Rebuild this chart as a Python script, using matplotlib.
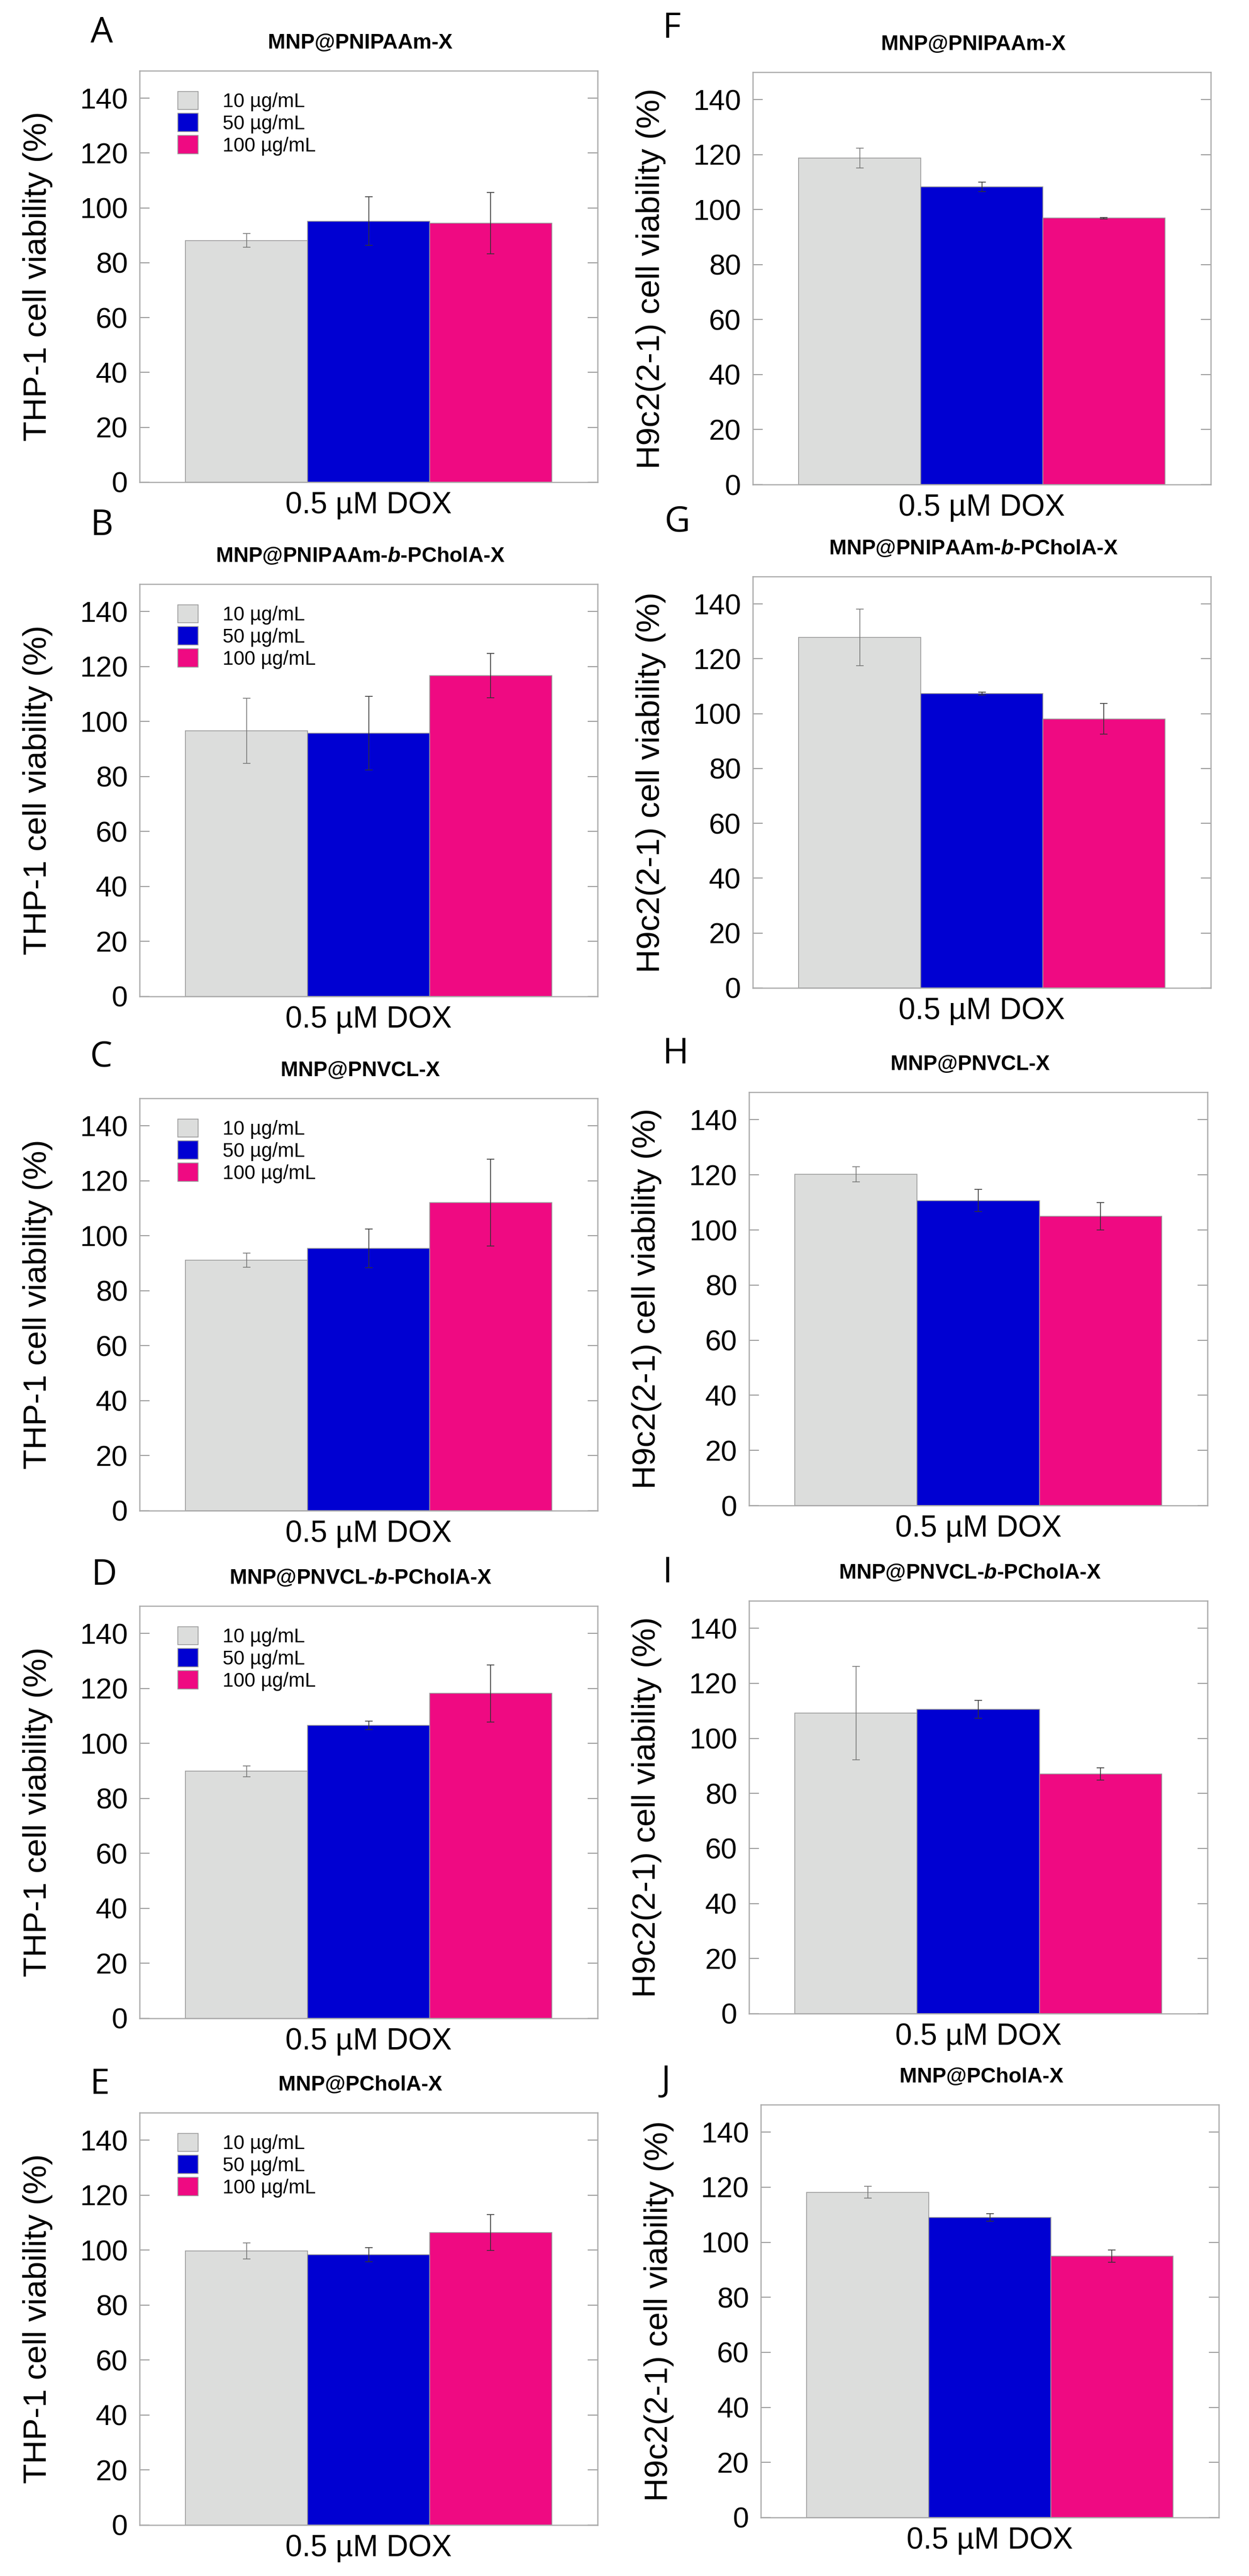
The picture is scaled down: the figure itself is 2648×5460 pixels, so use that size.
import matplotlib
matplotlib.use('Agg')
import matplotlib.pyplot as plt
import numpy as np

plt.rcParams['font.family'] = ['Liberation Sans', 'DejaVu Sans']
plt.rcParams['mathtext.fontset'] = 'custom'
plt.rcParams['mathtext.it'] = 'Liberation Sans:italic:bold'
plt.rcParams['mathtext.rm'] = 'Liberation Sans:bold'

conc = ['10 µg/mL', '50 µg/mL', '100 µg/mL']
colors = ['#DCDDDC', '#0000D2', '#EF0A82']

panel_letters = ['A', 'B', 'C', 'D', 'E', 'F', 'G', 'H', 'I', 'J']
titles = ['MNP@PNIPAAm-X', 'MNP@PNIPAAm-$b$-PCholA-X', 'MNP@PNVCL-X',
          'MNP@PNVCL-$b$-PCholA-X', 'MNP@PCholA-X'] * 2
ylabels = ['THP-1 cell viability (%)'] * 5 + ['H9c2(2-1) cell viability (%)'] * 5
xlabel = '0.5 µM DOX'

# viability (%) for 10 / 50 / 100 µg/mL
thp1_vals = [[88.1, 95.2, 94.4],
             [96.6, 95.8, 116.7],
             [91.1, 95.4, 112.0],
             [89.9, 106.6, 118.2],
             [99.7, 98.3, 106.4]]
thp1_err = [[2.5, 8.8, 11.2],
            [11.8, 13.4, 8.0],
            [2.6, 7.0, 15.8],
            [2.0, 1.6, 10.4],
            [2.9, 2.6, 6.5]]
h9c2_vals = [[118.7, 108.3, 96.9],
             [127.8, 107.3, 98.1],
             [120.2, 110.7, 105.0],
             [109.2, 110.6, 87.1],
             [118.2, 109.0, 95.0]]
h9c2_err = [[3.6, 1.7, 0.2],
            [10.3, 0.5, 5.6],
            [2.7, 4.0, 5.0],
            [17.0, 3.2, 2.3],
            [2.2, 1.4, 2.2]]

vals = thp1_vals + h9c2_vals
errs = thp1_err + h9c2_err

W, H = 2648, 5460
fig = plt.figure(figsize=(W / 100, H / 100), dpi=100)

# axes boxes in pixels (left, top, right, bottom)
boxes = [(296, 150, 1267, 1022), (296, 1238, 1267, 2112), (296, 2328, 1267, 3202),
         (296, 3404, 1267, 4278), (296, 4478, 1267, 5352),
         (1596, 153, 2567, 1027), (1596, 1222, 2567, 2094), (1588, 2315, 2560, 3191),
         (1588, 3393, 2560, 4268), (1613, 4461, 2584, 5336)]
letter_pos = [(216, 70), (216, 1114), (214, 2241), (221, 3339), (211, 4419),
              (1424, 61), (1436, 1107), (1432, 2234), (1415, 3334), (1412, 4412)]

x = np.array([-1.0, 0.0, 1.0])
for i in range(10):
    l, t, r, b = boxes[i]
    ax = fig.add_axes([l / W, 1 - b / H, (r - l) / W, (b - t) / H])
    for j in range(3):
        ecol = '#777777' if j == 0 else '#333333'
        ax.bar(x[j], vals[i][j], width=1.0, color=colors[j], edgecolor='#999999',
               linewidth=1.2, label=conc[j], zorder=2)
        ax.errorbar(x[j], vals[i][j], yerr=errs[i][j], fmt='none', ecolor=ecol,
                    elinewidth=1.2, capsize=6, capthick=1.2, zorder=3)
    ax.set_xlim(-1.875, 1.875)
    ax.set_ylim(0, 150)
    ax.set_yticks(np.arange(0, 141, 20))
    ax.set_xticks([])
    ax.tick_params(axis='y', direction='in', length=15, width=1.5, color='#999999',
                   left=True, right=True, labelsize=44, pad=18)
    for s in ax.spines.values():
        s.set_color('#AAAAAA')
        s.set_linewidth(1.8)
    ax.set_ylabel(ylabels[i], fontsize=50)
    ax.yaxis.set_label_coords(-0.19, 0.5)
    ax.set_xlabel(xlabel, fontsize=46)
    ax.xaxis.set_label_coords(0.5, -0.022)
    ax.set_title(titles[i], fontsize=32, fontweight='bold', pad=34, x=0.482)
    if i < 5:
        ax.legend(loc='upper left', bbox_to_anchor=(0.083, 0.95), frameon=False,
                  fontsize=30, borderpad=0, handlelength=1.05, handleheight=1.05,
                  handletextpad=1.25, labelspacing=0.1, borderaxespad=0)
    lx, ly = letter_pos[i]
    fig.text(lx / W, 1 - ly / H, panel_letters[i], fontsize=54, family='Open Sans',
             ha='center', va='center')

fig.savefig('out.png', dpi=100)
